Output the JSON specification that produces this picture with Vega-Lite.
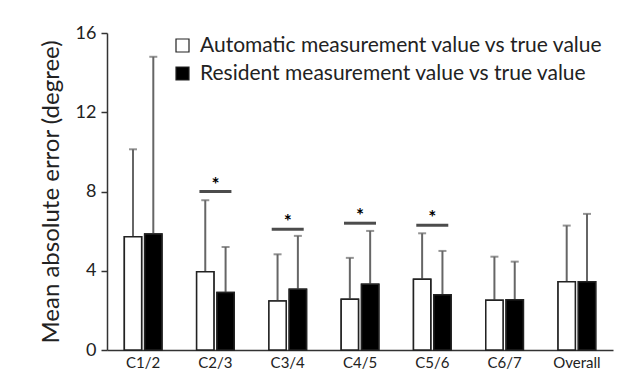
{
  "$schema": "https://vega.github.io/schema/vega-lite/v6.json",
  "autosize": {"type": "none"},
  "padding": {"left": 107, "top": 33, "right": 21, "bottom": 23},
  "width": 506,
  "height": 317,
  "background": "white",
  "config": {
    "font": "Lato",
    "view": {"stroke": null},
    "axis": {"grid": false, "domainColor": "#333", "domainWidth": 1.5, "tickColor": "#333", "tickWidth": 1.5, "labelColor": "#222", "titleColor": "#222", "labelFont": "Lato", "titleFont": "Lato"}
  },
  "datasets": {
    "bars": [
      {"seg": "C1/2", "group": "Automatic measurement value vs true value", "mean": 5.72, "err": 10.13},
      {"seg": "C1/2", "group": "Resident measurement value vs true value", "mean": 5.86, "err": 14.8},
      {"seg": "C2/3", "group": "Automatic measurement value vs true value", "mean": 3.95, "err": 7.56},
      {"seg": "C2/3", "group": "Resident measurement value vs true value", "mean": 2.9, "err": 5.2},
      {"seg": "C3/4", "group": "Automatic measurement value vs true value", "mean": 2.47, "err": 4.83},
      {"seg": "C3/4", "group": "Resident measurement value vs true value", "mean": 3.07, "err": 5.76},
      {"seg": "C4/5", "group": "Automatic measurement value vs true value", "mean": 2.56, "err": 4.65},
      {"seg": "C4/5", "group": "Resident measurement value vs true value", "mean": 3.32, "err": 6.01},
      {"seg": "C5/6", "group": "Automatic measurement value vs true value", "mean": 3.57, "err": 5.89},
      {"seg": "C5/6", "group": "Resident measurement value vs true value", "mean": 2.79, "err": 5.0},
      {"seg": "C6/7", "group": "Automatic measurement value vs true value", "mean": 2.51, "err": 4.71},
      {"seg": "C6/7", "group": "Resident measurement value vs true value", "mean": 2.54, "err": 4.46},
      {"seg": "Overall", "group": "Automatic measurement value vs true value", "mean": 3.45, "err": 6.28},
      {"seg": "Overall", "group": "Resident measurement value vs true value", "mean": 3.45, "err": 6.87}
    ],
    "sig": [
      {"seg": "C2/3", "level": 8.0, "mark": "*"},
      {"seg": "C3/4", "level": 6.1, "mark": "*"},
      {"seg": "C4/5", "level": 6.4, "mark": "*"},
      {"seg": "C5/6", "level": 6.3, "mark": "*"}
    ]
  },
  "layer": [
    {
      "data": {"name": "bars"},
      "mark": {"type": "bar", "stroke": "#222", "strokeWidth": 1.5},
      "encoding": {
        "x": {
          "field": "seg", "type": "nominal", "sort": null,
          "scale": {"paddingInner": 0.48, "paddingOuter": 0.24},
          "axis": {"title": null, "labelAngle": 0, "labelAlign": "center", "bandPosition": 0.5, "ticks": false, "labelFontSize": 15, "labelPadding": 5}
        },
        "xOffset": {"field": "group", "type": "nominal", "scale": {"paddingInner": 0.15}},
        "y": {
          "field": "mean", "type": "quantitative",
          "scale": {"domain": [0, 16], "nice": false},
          "axis": {"values": [0, 4, 8, 12, 16], "title": "Mean absolute error (degree)", "titleFontSize": 24, "titleFontWeight": "normal", "titlePadding": 12, "labelFontSize": 18, "tickSize": 6, "labelPadding": 5}
        },
        "fill": {
          "field": "group", "type": "nominal",
          "scale": {"domain": ["Automatic measurement value vs true value", "Resident measurement value vs true value"], "range": ["white", "black"]},
          "legend": {
            "title": null, "orient": "none", "legendX": 65, "legendY": 2,
            "symbolType": "square", "symbolSize": 169, "symbolStrokeColor": "black", "symbolStrokeWidth": 1.2,
            "labelFontSize": 21, "labelColor": "#222", "labelLimit": 600, "rowPadding": 6, "labelOffset": 7
          }
        }
      }
    },
    {
      "data": {"name": "bars"},
      "mark": {"type": "rule", "color": "#666", "strokeWidth": 2},
      "encoding": {
        "x": {"field": "seg", "type": "nominal", "sort": null},
        "xOffset": {"field": "group", "type": "nominal"},
        "y": {"field": "mean", "type": "quantitative"},
        "y2": {"field": "err"}
      }
    },
    {
      "data": {"name": "bars"},
      "mark": {"type": "tick", "color": "#666", "thickness": 2, "size": 8, "orient": "horizontal"},
      "encoding": {
        "x": {"field": "seg", "type": "nominal", "sort": null},
        "xOffset": {"field": "group", "type": "nominal"},
        "y": {"field": "err", "type": "quantitative"}
      }
    },
    {
      "data": {"name": "bars"},
      "mark": {"type": "bar", "stroke": "#222", "strokeWidth": 1.5},
      "encoding": {
        "x": {"field": "seg", "type": "nominal", "sort": null},
        "xOffset": {"field": "group", "type": "nominal"},
        "y": {"field": "mean", "type": "quantitative"},
        "fill": {"field": "group", "type": "nominal"}
      }
    },
    {
      "data": {"name": "sig"},
      "mark": {"type": "tick", "color": "black", "thickness": 3, "size": 32, "orient": "horizontal"},
      "encoding": {
        "x": {"field": "seg", "type": "nominal", "sort": null},
        "y": {"field": "level", "type": "quantitative"}
      }
    },
    {
      "data": {"name": "sig"},
      "mark": {"type": "text", "fontSize": 19, "fontWeight": "bold", "dy": -7, "color": "black"},
      "encoding": {
        "x": {"field": "seg", "type": "nominal", "sort": null},
        "y": {"field": "level", "type": "quantitative"},
        "text": {"field": "mark"}
      }
    }
  ]
}
